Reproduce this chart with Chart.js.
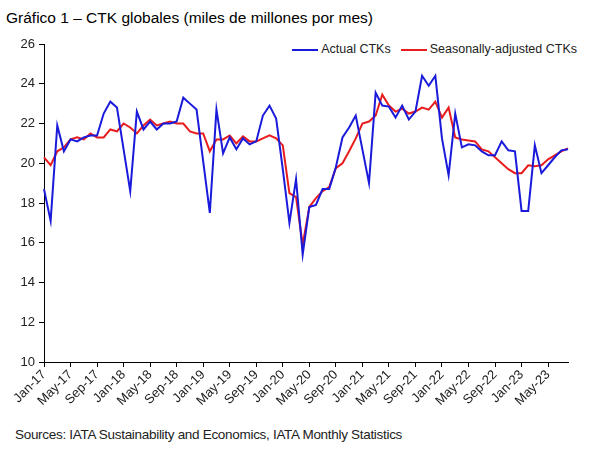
<!DOCTYPE html>
<html><head><meta charset="utf-8">
<script src="https://cdn.jsdelivr.net/npm/chart.js@4.4.0/dist/chart.umd.min.js"></script>
<style>
body{margin:0;background:#fff;font-family:"Liberation Sans",Arial,sans-serif;}
#wrap{position:relative;width:595px;height:456px;}
#title{position:absolute;left:6px;top:9px;font-size:15.5px;color:#000;}
#src{position:absolute;left:15px;top:427px;font-size:13.5px;color:#222;letter-spacing:-0.3px;}
#legend{position:absolute;top:42px;right:18px;font-size:12.5px;color:#222;display:flex;gap:10px;align-items:center;}
#legend span.l{display:inline-block;width:26px;height:2px;vertical-align:middle;margin-right:3px;}
canvas{position:absolute;left:0;top:30px;}
</style></head><body>
<div id="wrap">
<div id="title">Gráfico 1 – CTK globales (miles de millones por mes)</div>
<div id="legend"><div><span class="l" style="background:#1a1adb"></span>Actual CTKs</div><div><span class="l" style="background:#e81c1c"></span>Seasonally-adjusted CTKs</div></div>
<canvas id="c" width="595" height="380"></canvas>
<div id="src">Sources: IATA Sustainability and Economics, IATA Monthly Statistics</div>
</div>
<script>
const monthNames=["Jan","Feb","Mar","Apr","May","Jun","Jul","Aug","Sep","Oct","Nov","Dec"];
const categories=[];
for(let y=17;y<=23;y++){for(let m=0;m<12;m++){if(y===23&&m>7)break;categories.push(monthNames[m]+"-"+y);}}
const actualCTKs=[18.7,17.1,21.9,20.6,21.2,21.1,21.3,21.4,21.4,22.5,23.1,22.8,20.7,18.6,22.6,21.7,22.1,21.7,22.0,22.0,22.1,23.3,23.0,22.7,20.1,17.5,22.7,20.5,21.3,20.7,21.25,20.95,21.1,22.4,22.9,22.25,19.7,17.0,19.2,15.4,17.8,17.9,18.7,18.7,19.8,21.3,21.8,22.4,20.7,19.0,23.55,22.9,22.85,22.3,22.9,22.2,22.6,24.4,23.9,24.4,21.25,19.4,22.5,20.8,20.95,20.9,20.6,20.4,20.4,21.1,20.65,20.6,17.6,17.6,20.9,19.5,19.9,20.3,20.65,20.7];
const seasonallyAdjusted=[20.3,19.9,20.6,20.8,21.2,21.3,21.2,21.5,21.3,21.3,21.7,21.6,22.0,21.8,21.5,21.9,22.2,21.9,22.0,22.1,22.0,22.0,21.6,21.5,21.5,20.6,21.2,21.2,21.4,21.0,21.35,21.1,21.1,21.25,21.4,21.25,20.9,18.5,18.3,15.9,17.8,18.25,18.6,18.8,19.75,20.0,20.6,21.25,22.0,22.1,22.4,23.45,22.9,22.6,22.75,22.5,22.6,22.8,22.7,23.1,22.3,22.8,21.3,21.2,21.15,21.1,20.7,20.6,20.3,20.0,19.7,19.5,19.5,19.9,19.85,19.9,20.2,20.4,20.6,20.75];
const yTicks=[10,12,14,16,18,20,22,24,26];
const font={family:"Liberation Sans, Arial, sans-serif",size:13};
new Chart(document.getElementById('c'),{
 type:'line',
 data:{labels:categories,datasets:[
  {label:'Actual CTKs',data:actualCTKs,borderColor:'#1a1adb',borderWidth:2,pointRadius:0,tension:0},
  {label:'Seasonally-adjusted CTKs',data:seasonallyAdjusted,borderColor:'#e81c1c',borderWidth:2,pointRadius:0,tension:0}
 ]},
 options:{responsive:false,animation:false,
  layout:{padding:{top:14,right:27,left:0,bottom:0}},
  plugins:{legend:{display:false},tooltip:{enabled:false}},
  scales:{
   x:{offset:false,
     grid:{drawOnChartArea:false,tickLength:5,color:(c)=>c.index%4===0?'#000':'rgba(0,0,0,0)'},
     border:{color:'#000',width:1},
     ticks:{autoSkip:false,maxRotation:45,minRotation:45,color:'#222',font,padding:0,
       callback:(v,i)=>i%4===0?categories[i]:''},
     afterFit:(s)=>{s.height=48;}},
   y:{min:10,max:26,
     afterBuildTicks:(s)=>{s.ticks=yTicks.map(v=>({value:v}));},
     grid:{drawOnChartArea:false,tickLength:5,color:'#000'},
     border:{color:'#000',width:1},
     ticks:{color:'#222',font,padding:4},
     afterFit:(s)=>{s.width=44;}}
  }}
});
</script>
</body></html>
